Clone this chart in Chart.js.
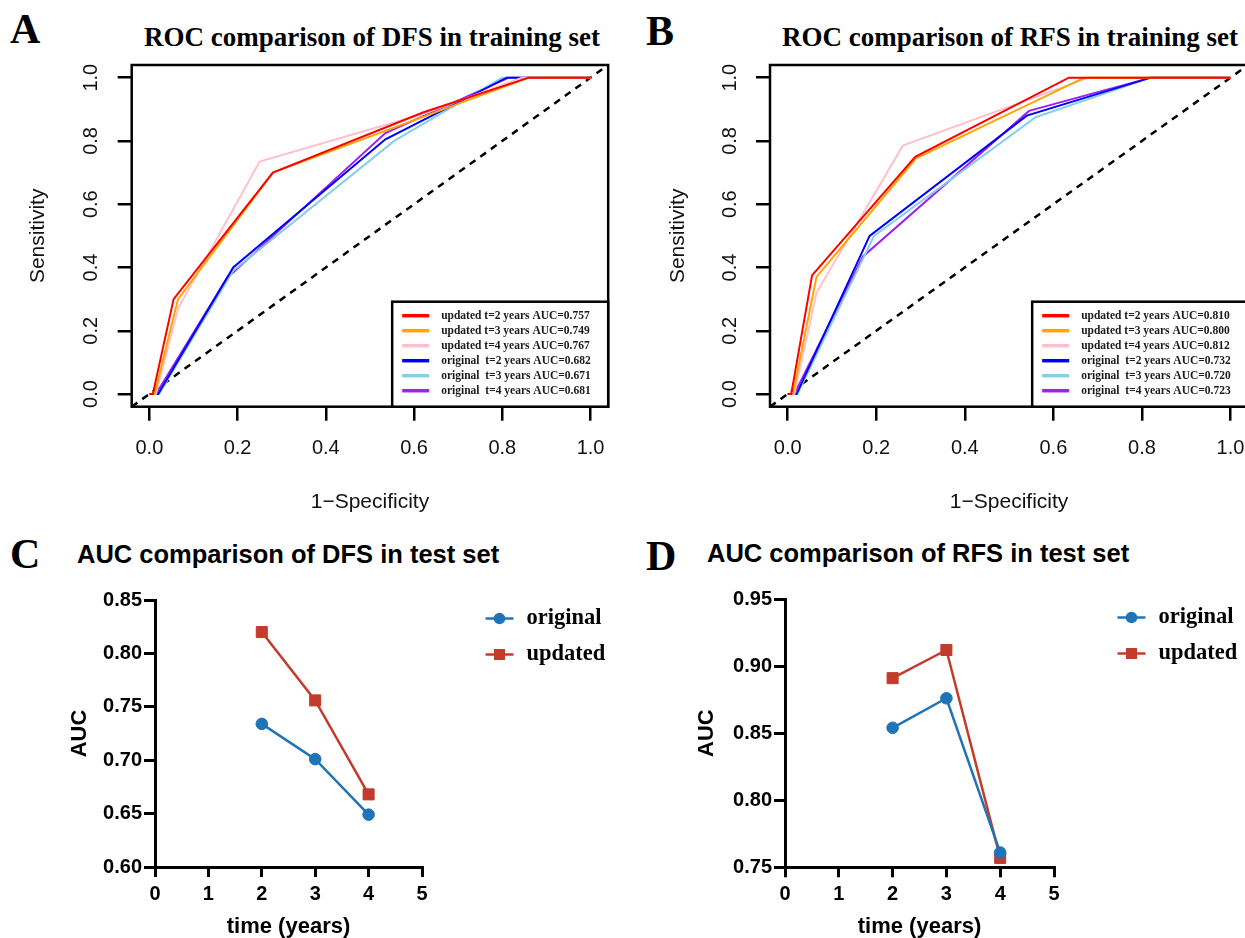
<!DOCTYPE html>
<html>
<head>
<meta charset="utf-8">
<script src="https://cdn.jsdelivr.net/npm/chart.js@4/dist/chart.umd.min.js"></script>
<style>
html, body { margin: 0; padding: 0; background: #fff; overflow: hidden; width: 1245px; height: 938px; }
canvas { position: absolute; }
.lab { position: absolute; font-family: "Liberation Serif"; font-weight: bold; font-size: 42px; line-height: 42px; color: #000; white-space: nowrap; }
.rtitle { position: absolute; font-family: "Liberation Serif"; font-weight: bold; font-size: 27px; line-height: 27px; color: #000; white-space: nowrap; transform: translateX(-50%); }
.gtitle { position: absolute; font-family: "Liberation Sans"; font-weight: bold; font-size: 25.5px; line-height: 25.5px; color: #000; white-space: nowrap; }
</style>
</head>
<body>
<div class="lab" style="left:10px;top:8px">A</div>
<div class="lab" style="left:646px;top:10px">B</div>
<div class="lab" style="left:10px;top:533px">C</div>
<div class="lab" style="left:646px;top:535px">D</div>
<div class="rtitle" style="left:372px;top:24px">ROC comparison of DFS in training set</div>
<div class="rtitle" style="left:1010px;top:24px">ROC comparison of RFS in training set</div>
<div class="gtitle" style="left:77px;top:542px">AUC comparison of DFS in test set</div>
<div class="gtitle" style="left:707px;top:541px">AUC comparison of RFS in test set</div>

<canvas id="rocDfs" width="620" height="525" style="left:0;top:0"></canvas>
<canvas id="rocRfs" width="640" height="525" style="left:620px;top:0"></canvas>
<canvas id="aucDfs" width="620" height="418" style="left:0;top:520px"></canvas>
<canvas id="aucRfs" width="625" height="418" style="left:620px;top:520px"></canvas>

<script>
// ROC curves, training set: [1-specificity, sensitivity]
const dfsUpdated2 = [[0, 0], [0.008, 0], [0.055, 0.30], [0.28, 0.70], [0.62, 0.89], [0.86, 1], [1, 1]];
const dfsUpdated3 = [[0, 0], [0.012, 0], [0.065, 0.30], [0.28, 0.70], [0.86, 1], [1, 1]];
const dfsUpdated4 = [[0, 0], [0.015, 0], [0.065, 0.27], [0.25, 0.735], [0.62, 0.885], [0.845, 1], [1, 1]];
const dfsOriginal2 = [[0, 0], [0.02, 0], [0.19, 0.40], [0.535, 0.805], [0.81, 1], [1, 1]];
const dfsOriginal3 = [[0, 0], [0.022, 0], [0.19, 0.39], [0.555, 0.80], [0.80, 1], [1, 1]];
const dfsOriginal4 = [[0, 0], [0.015, 0], [0.175, 0.365], [0.535, 0.825], [0.815, 1], [1, 1]];

const rfsUpdated2 = [[0, 0], [0.008, 0], [0.055, 0.375], [0.288, 0.75], [0.635, 1], [1, 1]];
const rfsUpdated3 = [[0, 0], [0.012, 0], [0.065, 0.37], [0.29, 0.745], [0.67, 1], [1, 1]];
const rfsUpdated4 = [[0, 0], [0.015, 0], [0.065, 0.32], [0.26, 0.785], [0.68, 1], [1, 1]];
const rfsOriginal2 = [[0, 0], [0.02, 0], [0.185, 0.50], [0.54, 0.88], [0.82, 1], [1, 1]];
const rfsOriginal3 = [[0, 0], [0.022, 0], [0.195, 0.50], [0.56, 0.875], [0.82, 1], [1, 1]];
const rfsOriginal4 = [[0, 0], [0.015, 0], [0.17, 0.435], [0.545, 0.895], [0.82, 1], [1, 1]];

const dfsRocLabels = [
  'updated t=2 years AUC=0.757', 'updated t=3 years AUC=0.749', 'updated t=4 years AUC=0.767',
  'original  t=2 years AUC=0.682', 'original  t=3 years AUC=0.671', 'original  t=4 years AUC=0.681'
];
const rfsRocLabels = [
  'updated t=2 years AUC=0.810', 'updated t=3 years AUC=0.800', 'updated t=4 years AUC=0.812',
  'original  t=2 years AUC=0.732', 'original  t=3 years AUC=0.720', 'original  t=4 years AUC=0.723'
];
const rocTicks = [0, 0.2, 0.4, 0.6, 0.8, 1.0];
const refLine = [[-0.04, -0.04], [1.04, 1.04]];

// AUC in test set
const years = [2, 3, 4];
const dfsOriginalAuc = [0.734, 0.701, 0.649];
const dfsUpdatedAuc = [0.820, 0.756, 0.668];
const rfsOriginalAuc = [0.854, 0.876, 0.761];
const rfsUpdatedAuc = [0.891, 0.912, 0.757];
const yearTicks = [0, 1, 2, 3, 4, 5];
const dfsAucTicks = [0.60, 0.65, 0.70, 0.75, 0.80, 0.85];
const rfsAucTicks = [0.75, 0.80, 0.85, 0.90, 0.95];

const rocColors = ['#ff0000', '#ffa500', '#ffc0cb', '#0000ff', '#87ceeb', '#a020f0'];
const blue = '#1f73b7';
const red = '#c23b2c';

const toXY = arr => arr.map(p => ({x: p[0], y: p[1]}));

// box round the plot region, as R draws it
const rocBox = {
  id: 'rocBox',
  afterDatasetsDraw(chart) {
    const {ctx, chartArea: a} = chart;
    ctx.save();
    ctx.strokeStyle = '#000';
    ctx.lineWidth = 2.5;
    ctx.strokeRect(a.left, a.top, a.right - a.left, a.bottom - a.top);
    ctx.restore();
  }
};

// bottomright legend
const rocLegend = {
  id: 'rocLegend',
  afterDraw(chart) {
    const {ctx, chartArea: a} = chart;
    const w = 216, h = 105;
    const x0 = a.right - w, y0 = a.bottom - h;
    ctx.save();
    ctx.fillStyle = '#fff';
    ctx.fillRect(x0, y0, w, h);
    ctx.strokeStyle = '#000';
    ctx.lineWidth = 2.5;
    ctx.strokeRect(x0, y0, w, h);
    ctx.font = 'bold 11.5px "Liberation Serif"';
    ctx.textBaseline = 'middle';
    chart.data.datasets.forEach((ds, i) => {
      if (!ds.inLegend) return;
      const y = y0 + 14 + i * 15;
      ctx.strokeStyle = ds.borderColor;
      ctx.lineWidth = 3.5;
      ctx.beginPath();
      ctx.moveTo(x0 + 10, y);
      ctx.lineTo(x0 + 37, y);
      ctx.stroke();
      ctx.fillStyle = '#1a1a1a';
      ctx.fillText(ds.label, x0 + 49, y);
    });
    ctx.restore();
  }
};

function rocChart(id, series, labels, o) {
  const datasets = series.map((s, i) => ({
    label: labels[i],
    data: toXY(s),
    borderColor: rocColors[i],
    borderWidth: 2,
    pointRadius: 0,
    tension: 0,
    inLegend: true
  }));
  datasets.push({
    label: 'reference',
    data: toXY(refLine),
    borderColor: '#000',
    borderWidth: 2.5,
    borderDash: [7, 6],
    pointRadius: 0
  });
  const axisFont = {family: 'Liberation Sans', size: 20};
  return new Chart(document.getElementById(id), {
    type: 'line',
    data: {datasets: datasets},
    options: {
      responsive: false,
      animation: false,
      events: [],
      layout: {padding: {left: 0, top: 65, right: o.right, bottom: 0}},
      plugins: {legend: {display: false}, tooltip: {enabled: false}},
      scales: {
        x: {
          type: 'linear', min: -0.04, max: 1.04,
          afterBuildTicks: s => { s.ticks = rocTicks.map(v => ({value: v})); },
          afterFit: s => { s.height = 118.3; },
          grid: {display: true, drawOnChartArea: false, drawTicks: true, tickLength: 14, lineWidth: 2.5, color: '#000'},
          border: {display: false},
          ticks: {color: '#111', font: axisFont, padding: 15.3, maxRotation: 0, autoSkip: false, callback: v => v.toFixed(1)},
          title: {display: true, text: '1\u2212Specificity', color: '#111', font: {family: 'Liberation Sans', size: 21, lineHeight: 1}, padding: {top: 0, bottom: 12.5}}
        },
        y: {
          type: 'linear', min: -0.04, max: 1.04,
          afterBuildTicks: s => { s.ticks = rocTicks.map(v => ({value: v})); },
          afterFit: s => { s.width = o.yw; },
          grid: {display: true, drawOnChartArea: false, drawTicks: true, tickLength: 14, lineWidth: 2.5, color: '#000'},
          border: {display: false},
          ticks: {color: '#111', font: axisFont, padding: 12, minRotation: 90, maxRotation: 90, crossAlign: 'center', autoSkip: false, callback: v => v.toFixed(1)},
          title: {display: true, text: 'Sensitivity', color: '#111', font: {family: 'Liberation Sans', size: 21, lineHeight: 1}, padding: {top: o.ytitle, bottom: 0}}
        }
      }
    },
    plugins: [rocBox, rocLegend]
  });
}

// legend to the right of the plot: line with marker
const aucLegend = {
  id: 'aucLegend',
  afterDraw(chart) {
    const {ctx, chartArea: a} = chart;
    const cx = a.right + 77.5;
    ctx.save();
    ctx.font = 'bold 22.5px "Liberation Serif"';
    ctx.textBaseline = 'middle';
    chart.data.datasets.forEach((ds, i) => {
      const y = a.top + 18.5 + i * 36;
      ctx.strokeStyle = ds.borderColor;
      ctx.fillStyle = ds.backgroundColor;
      ctx.lineWidth = 2.5;
      ctx.beginPath();
      ctx.moveTo(cx - 14, y);
      ctx.lineTo(cx + 14, y);
      ctx.stroke();
      ctx.beginPath();
      if (ds.pointStyle === 'rect') {
        ctx.rect(cx - 5.5, y - 5.5, 11, 11);
      } else {
        ctx.arc(cx, y, 5.8, 0, Math.PI * 2);
      }
      ctx.fill();
      ctx.fillStyle = '#000';
      ctx.fillText(ds.label, cx + 27, y);
    });
    ctx.restore();
  }
};

function aucChart(id, orig, upd, yTicks, o) {
  const bold = {family: 'Liberation Sans', size: 20, weight: 'bold'};
  return new Chart(document.getElementById(id), {
    type: 'line',
    data: {
      datasets: [
        {label: 'original', data: years.map((t, i) => ({x: t, y: orig[i]})), borderColor: blue, backgroundColor: blue,
         borderWidth: 2.5, pointStyle: 'circle', pointRadius: 5.8, pointBorderWidth: 1, tension: 0, clip: false},
        {label: 'updated', data: years.map((t, i) => ({x: t, y: upd[i]})), borderColor: red, backgroundColor: red,
         borderWidth: 2.5, pointStyle: 'rect', pointRadius: 7.8, pointBorderWidth: 1, tension: 0, clip: false}
      ]
    },
    options: {
      responsive: false,
      animation: false,
      events: [],
      layout: {padding: {left: 0, top: o.top, right: o.right, bottom: 0}},
      plugins: {legend: {display: false}, tooltip: {enabled: false}},
      scales: {
        x: {
          type: 'linear', min: 0, max: 5,
          afterBuildTicks: s => { s.ticks = yearTicks.map(v => ({value: v})); },
          afterFit: s => { s.height = o.xh; },
          grid: {display: true, drawOnChartArea: false, drawTicks: true, tickLength: 10, lineWidth: 3, color: '#000'},
          border: {display: true, width: 3, color: '#000'},
          ticks: {color: '#000', font: bold, padding: 5, maxRotation: 0, autoSkip: false},
          title: {display: true, text: 'time (years)', color: '#000', font: {family: 'Liberation Sans', size: 22, weight: 'bold', lineHeight: 1}, padding: {top: 0, bottom: 0}}
        },
        y: {
          type: 'linear', min: yTicks[0], max: yTicks[yTicks.length - 1],
          afterBuildTicks: s => { s.ticks = yTicks.map(v => ({value: v})); },
          afterFit: s => { s.width = o.yw; },
          grid: {display: true, drawOnChartArea: false, drawTicks: true, tickLength: 11, lineWidth: 3, color: '#000'},
          border: {display: true, width: 3, color: '#000'},
          ticks: {color: '#000', font: bold, padding: 2, autoSkip: false, callback: v => v.toFixed(2)},
          title: {display: true, text: 'AUC', color: '#000', font: {family: 'Liberation Sans', size: 22, weight: 'bold', lineHeight: 1}, padding: {top: o.ytitle, bottom: 0}}
        }
      }
    },
    plugins: [aucLegend]
  });
}

rocChart('rocDfs', [dfsUpdated2, dfsUpdated3, dfsUpdated4, dfsOriginal2, dfsOriginal3, dfsOriginal4], dfsRocLabels,
  {right: 7.2, yw: 131.7, ytitle: 27.5});
rocChart('rocRfs', [rfsUpdated2, rfsUpdated3, rfsUpdated4, rfsOriginal2, rfsOriginal3, rfsOriginal4], rfsRocLabels,
  {right: 9, yw: 150, ytitle: 47.5});
aucChart('aucDfs', dfsOriginalAuc, dfsUpdatedAuc, dfsAucTicks, {top: 80, right: 198, xh: 71, yw: 155, ytitle: 69});
aucChart('aucRfs', rfsOriginalAuc, rfsUpdatedAuc, rfsAucTicks, {top: 79, right: 191, xh: 70.7, yw: 165, ytitle: 76});
</script>
</body>
</html>
